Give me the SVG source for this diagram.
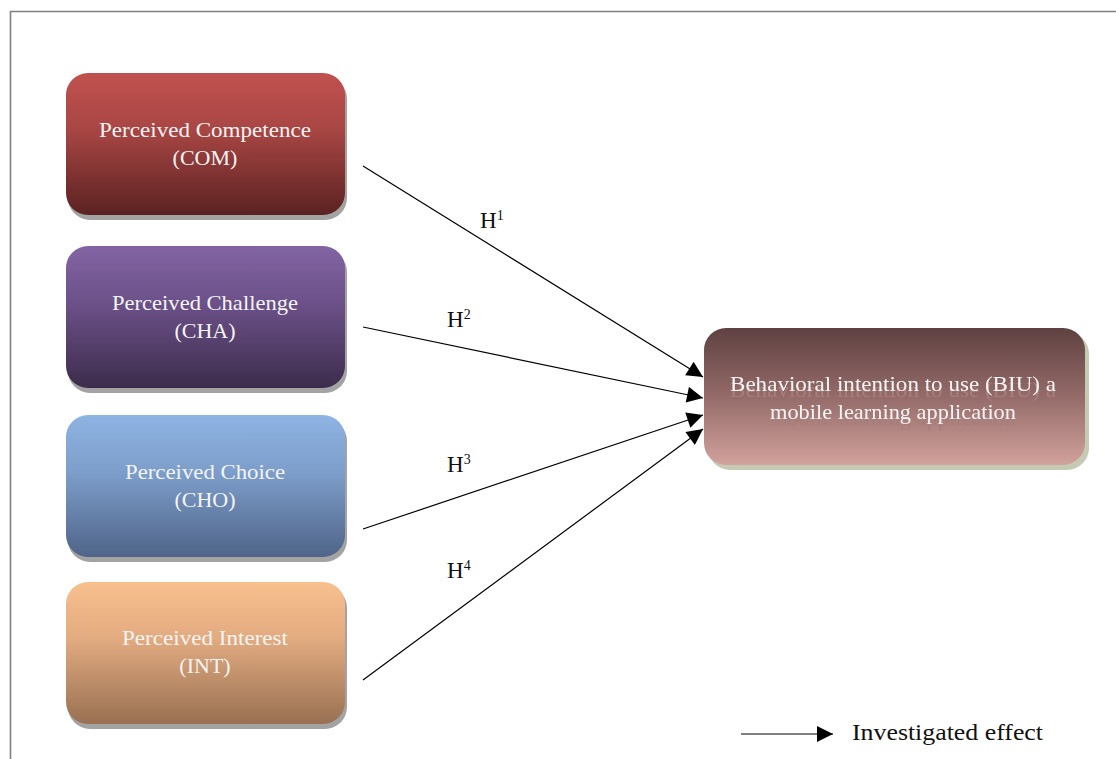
<svg xmlns="http://www.w3.org/2000/svg" width="1116" height="759" viewBox="0 0 1116 759">
<defs>
<linearGradient id="gCOM" x1="0" y1="0" x2="0" y2="1"><stop offset="0" stop-color="#c1514f"/><stop offset="0.4" stop-color="#a84644"/><stop offset="1" stop-color="#5a2221"/></linearGradient>
<linearGradient id="gCHA" x1="0" y1="0" x2="0" y2="1"><stop offset="0" stop-color="#8264a3"/><stop offset="0.4" stop-color="#6c5189"/><stop offset="1" stop-color="#3c2c4c"/></linearGradient>
<linearGradient id="gCHO" x1="0" y1="0" x2="0" y2="1"><stop offset="0" stop-color="#8eb4e3"/><stop offset="0.4" stop-color="#7d9ecb"/><stop offset="1" stop-color="#4f6488"/></linearGradient>
<linearGradient id="gINT" x1="0" y1="0" x2="0" y2="1"><stop offset="0" stop-color="#f9c08e"/><stop offset="0.4" stop-color="#e2ab80"/><stop offset="1" stop-color="#987052"/></linearGradient>
<linearGradient id="gBIU" x1="0" y1="0" x2="0" y2="1"><stop offset="0" stop-color="#5f4141"/><stop offset="0.5" stop-color="#946b69"/><stop offset="1" stop-color="#d2a29d"/></linearGradient>
<marker id="arrBig" viewBox="0 0 10 10" refX="10" refY="5" markerWidth="18" markerHeight="16" markerUnits="userSpaceOnUse" orient="auto"><path d="M0,0 L10,5 L0,10 z" fill="#000"/></marker>
<filter id="ghost" x="-10%" y="-50%" width="120%" height="250%">
<feOffset in="SourceAlpha" dy="6" result="off"/>
<feFlood flood-color="#a77d7a" result="c"/>
<feComposite in="c" in2="off" operator="in" result="sh"/>
<feMerge><feMergeNode in="sh"/><feMergeNode in="SourceGraphic"/></feMerge>
</filter>
</defs>
<style>
.box-text{font-family:"Liberation Serif",serif;font-size:22px;fill:#f4f4f4;text-anchor:middle}
.lbl{font-family:"Liberation Serif",serif;font-size:23px;fill:#111}
.sup{font-size:14px}
.shadow{fill:#a3a3a3}
.conn{stroke:#000;stroke-width:1.2;fill:none;marker-end:url(#arrBig)}
</style>
<rect width="1116" height="759" fill="#fff"/>
<path d="M10.5,759 L10.5,11.5 L1116,11.5" fill="none" stroke="#808080" stroke-width="1.6"/>

<g id="node-COM">
<rect class="shadow" x="68" y="77" width="279" height="143" rx="22"/>
<rect x="66" y="73" width="279" height="142" rx="22" fill="url(#gCOM)"/>
<text class="box-text" x="205" y="137" textLength="212" lengthAdjust="spacingAndGlyphs">Perceived Competence</text>
<text class="box-text" x="205" y="165">(COM)</text>
</g>
<g id="node-CHA">
<rect class="shadow" x="68" y="250" width="279" height="143" rx="22"/>
<rect x="66" y="246" width="279" height="142" rx="22" fill="url(#gCHA)"/>
<text class="box-text" x="205" y="310" textLength="186" lengthAdjust="spacingAndGlyphs">Perceived Challenge</text>
<text class="box-text" x="205" y="338">(CHA)</text>
</g>
<g id="node-CHO">
<rect class="shadow" x="68" y="419" width="279" height="143" rx="22"/>
<rect x="66" y="415" width="279" height="142" rx="22" fill="url(#gCHO)"/>
<text class="box-text" x="205" y="479" textLength="160" lengthAdjust="spacingAndGlyphs">Perceived Choice</text>
<text class="box-text" x="205" y="507">(CHO)</text>
</g>
<g id="node-INT">
<rect class="shadow" x="68" y="586" width="279" height="143" rx="22"/>
<rect x="66" y="582" width="279" height="142" rx="22" fill="url(#gINT)"/>
<text class="box-text" x="205" y="645" textLength="166" lengthAdjust="spacingAndGlyphs">Perceived Interest</text>
<text class="box-text" x="205" y="673">(INT)</text>
</g>
<g id="node-BIU">
<rect x="708" y="332" width="381" height="138" rx="22" fill="#c5cab2"/>
<rect x="704" y="328" width="381" height="137" rx="22" fill="url(#gBIU)"/>
<g filter="url(#ghost)">
<text class="box-text" x="893" y="391" textLength="326" lengthAdjust="spacingAndGlyphs">Behavioral intention to use (BIU) a</text>
<text class="box-text" x="893" y="419" textLength="246" lengthAdjust="spacingAndGlyphs">mobile learning application</text>
</g>
</g>

<g id="connectors">
<line class="conn" x1="363" y1="166" x2="703" y2="377"/>
<line class="conn" x1="363" y1="327" x2="703" y2="398"/>
<line class="conn" x1="363" y1="529" x2="703" y2="415"/>
<line class="conn" x1="363" y1="680" x2="703" y2="429"/>
<line class="conn" x1="741" y1="734" x2="833" y2="734" stroke-width="1.8"/>
</g>

<g id="labels">
<text class="lbl" x="480" y="228">H<tspan class="sup" dy="-8">1</tspan></text>
<text class="lbl" x="447" y="327">H<tspan class="sup" dy="-8">2</tspan></text>
<text class="lbl" x="447" y="472">H<tspan class="sup" dy="-8">3</tspan></text>
<text class="lbl" x="447" y="578">H<tspan class="sup" dy="-8">4</tspan></text>
<text class="lbl" x="852" y="740" textLength="191" lengthAdjust="spacingAndGlyphs">Investigated effect</text>
</g>
</svg>
